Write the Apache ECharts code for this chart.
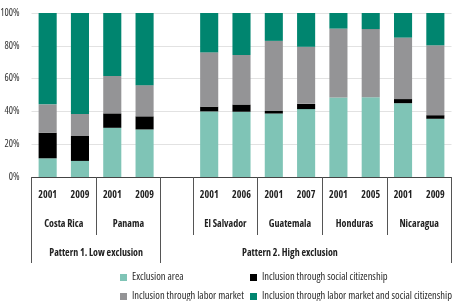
<!DOCTYPE html>
<html>
<head>
<meta charset="utf-8">
<script src="https://cdn.jsdelivr.net/npm/echarts@6/dist/echarts.min.js"></script>
<style>
  html, body { margin: 0; padding: 0; background: #fff; }
  #chart { width: 456px; height: 301px; }
</style>
</head>
<body>
<div id="chart"></div>
<script>
// one slot per survey year, with an empty slot between the two patterns
const years = ["2001", "2009", "2001", "2009", "", "2001", "2006", "2001", "2007", "2001", "2005", "2001", "2009"];
// boundary labels (14 boundaries for 13 slots)
const countries = ["", "Costa Rica", "", "Panama", "", "", "El Salvador", "", "Guatemala", "", "Honduras", "", "Nicaragua", ""];
const patterns = ["", "", "Pattern 1. Low exclusion", "", "", "", "", "", "Pattern 2. High exclusion", "", "", "", "", ""];
const countryBounds = [0, 2, 4, 5, 7, 9, 11, 13];
const patternBounds = [0, 4, 13];

const exclusion = [11.4, 9.8, 30, 29, null, 40, 39.8, 38.7, 41.4, 48.5, 48.7, 45, 35.5];
const socialCitizenship = [15.6, 15.2, 8.8, 8, null, 2.9, 4.4, 1.6, 3.2, 0, 0, 2.5, 2.2];
const laborMarket = [17.3, 13.4, 22.8, 19, null, 33.1, 30.2, 42.7, 34.8, 42, 41.5, 37.5, 42.6];
const laborAndSocial = [55.7, 61.6, 38.4, 44, null, 24, 25.6, 17, 20.6, 9.5, 9.8, 15, 19.7];

const font = "'Open Sans', sans-serif";
// font-stretch goes into the canvas font shorthand through the weight field
const boldNarrow = "bold condensed";
const narrow = "condensed";

const chart = echarts.init(document.getElementById("chart"));

function bar(name, data, color) {
  return {
    name: name,
    type: "bar",
    stack: "total",
    data: data,
    barCategoryGap: "44%",
    itemStyle: { color: color },
    emphasis: { disabled: true }
  };
}

const legendBase = {
  top: 267, height: 40, orient: "vertical", itemGap: 8,
  itemWidth: 7, itemHeight: 7, icon: "rect",
  textStyle: { fontFamily: font, fontWeight: narrow, fontSize: 10.5, color: "#2a2a2a" }
};

chart.setOption({
  animation: false,
  grid: { left: 31.5, right: 4.5, top: 13, bottom: 124, outerBoundsMode: "none" },
  legend: [
    Object.assign({}, legendBase, { left: 115, data: ["Exclusion area", "Inclusion through labor market"] }),
    Object.assign({}, legendBase, { left: 245, data: ["Inclusion through social citizenship", "Inclusion through labor market and social citizenship"] })
  ],
  xAxis: [
    {
      type: "category",
      data: years,
      axisLine: { lineStyle: { color: "#444", width: 1 } },
      axisTick: { show: false },
      axisLabel: { interval: 0, margin: 13, fontFamily: font, fontWeight: boldNarrow, fontSize: 10, color: "#222" }
    },
    {
      type: "category",
      data: countries,
      boundaryGap: false,
      position: "bottom",
      axisLine: { show: false },
      axisTick: {
        length: 58,
        interval: function (i) { return countryBounds.indexOf(i) >= 0; },
        lineStyle: { color: "#555" }
      },
      axisLabel: {
        interval: function (i) { return countries[i] !== ""; },
        margin: 42, fontFamily: font, fontWeight: boldNarrow, fontSize: 10, color: "#222"
      }
    },
    {
      type: "category",
      data: patterns,
      boundaryGap: false,
      position: "bottom",
      axisLine: { show: false },
      axisTick: {
        length: 86,
        interval: function (i) { return patternBounds.indexOf(i) >= 0; },
        lineStyle: { color: "#555" }
      },
      axisLabel: {
        interval: function (i) { return patterns[i] !== ""; },
        margin: 71, fontFamily: font, fontWeight: boldNarrow, fontSize: 10, color: "#222"
      }
    }
  ],
  yAxis: {
    type: "value",
    min: 0,
    max: 100,
    interval: 20,
    axisLine: { show: false },
    axisTick: { show: false },
    splitLine: { lineStyle: { color: "#e2e2e2" } },
    axisLabel: { formatter: "{value}%", margin: 12, fontFamily: font, fontWeight: narrow, fontSize: 10, color: "#333" }
  },
  series: [
    bar("Exclusion area", exclusion, "#7fc4b6"),
    bar("Inclusion through social citizenship", socialCitizenship, "#000000"),
    bar("Inclusion through labor market", laborMarket, "#949496"),
    bar("Inclusion through labor market and social citizenship", laborAndSocial, "#00856f")
  ]
});
</script>
</body>
</html>
